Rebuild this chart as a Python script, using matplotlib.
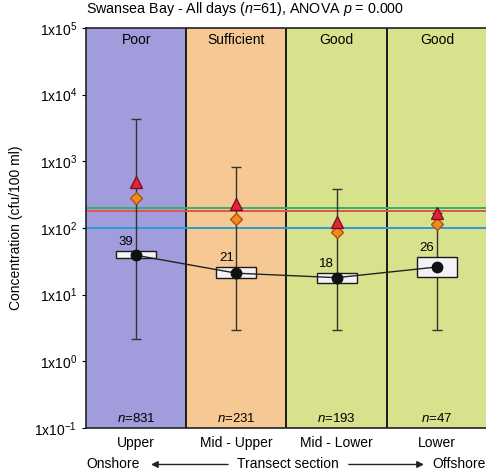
import matplotlib
matplotlib.use("Agg")
import matplotlib.pyplot as plt

plt.rcParams['font.family'] = ['Liberation Sans', 'DejaVu Sans']
plt.rcParams['mathtext.fontset'] = 'custom'
plt.rcParams['mathtext.rm'] = 'Liberation Sans'
plt.rcParams['mathtext.it'] = 'Liberation Sans:italic'

sections = ["Upper", "Mid - Upper", "Mid - Lower", "Lower"]
classes = ["Poor", "Sufficient", "Good", "Good"]
class_colors = ["#a19cdc", "#f6c994", "#d8e28c", "#d8e28c"]
n_counts = [831, 231, 193, 47]
means = [39, 21, 18, 26]
box_low = [35, 18, 15, 18.6]
box_high = [45, 26, 21, 37]
whisk_low = [2.2, 2.95, 2.95, 2.95]
whisk_high = [4300, 820, 385, 170]
triangles = [490, 230, 124, 170]
diamonds = [280, 137, 86, 115]
guide_vals = [200, 182, 100]
guide_colors = ["#2fb36a", "#e8504a", "#2a9bd8"]

fig = plt.figure(figsize=(4.86, 4.73), dpi=100)
ax = fig.add_axes([0.177, 0.0951, 0.825, 0.8457])
ax.set_yscale('log')
ax.set_ylim(0.1, 1e5)
ax.set_xlim(-0.5, 3.5)

x = list(range(len(sections)))
for i in x:
    ax.axvspan(i - 0.5, i + 0.5, color=class_colors[i], zorder=0)
    if i > 0:
        ax.axvline(i - 0.5, color='#1a1a1a', lw=1.4, zorder=1)
    ax.text(i, 6.5e4, classes[i], ha='center', va='center', fontsize=10, zorder=6)
    ax.text(i, 0.14, '$n$=%d' % n_counts[i], ha='center', va='center', fontsize=9.5, zorder=6)

for v, c in zip(guide_vals, guide_colors):
    ax.axhline(v, color=c, lw=1.4, zorder=2)

# whiskers
ax.vlines(x, whisk_low, whisk_high, color='#333333', lw=1, zorder=3)
ax.hlines(whisk_low, [i - 0.05 for i in x], [i + 0.05 for i in x], color='#333333', lw=1, zorder=3)
ax.hlines(whisk_high, [i - 0.05 for i in x], [i + 0.05 for i in x], color='#333333', lw=1, zorder=3)

# boxes
for i in x:
    ax.bar(i, box_high[i] - box_low[i], bottom=box_low[i], width=0.4,
           color='#f4f2f6', edgecolor='#1a1a1a', lw=1, zorder=4)
    ax.text(i - 0.1, box_high[i] * 1.12, str(means[i]), ha='center', va='bottom',
            fontsize=9.5, zorder=6)

ax.plot(x, means, color='#222222', lw=1, zorder=5)
ax.plot(x, means, 'o', color='#111111', ms=7.5, zorder=6)
ax.plot(x, diamonds, 'D', color='#f08c1c', mec='#b05010', ms=6, zorder=6)
ax.plot(x, triangles, '^', color='#e0243c', mec='#801020', ms=8, zorder=6)

ax.set_yticks([0.1, 1, 10, 100, 1e3, 1e4, 1e5])
ax.set_yticklabels(['1x10$^{-1}$', '1x10$^{0}$', '1x10$^{1}$', '1x10$^{2}$',
                    '1x10$^{3}$', '1x10$^{4}$', '1x10$^{5}$'], fontsize=10)
ax.minorticks_off()
ax.set_xticks(x)
ax.set_xticklabels(sections, fontsize=10)
ax.tick_params(axis='x', length=0, pad=6)
ax.tick_params(axis='y', length=3)
ax.set_ylabel('Concentration (cfu/100 ml)', fontsize=10, labelpad=8)
for s in ax.spines.values():
    s.set_color('#222222')
    s.set_linewidth(1.2)

fig.text(0.177, 0.962, 'Swansea Bay - All days ($n$=61), ANOVA $p$ = 0.000',
         fontsize=10.3, ha='left', va='bottom')

ytxt = 0.018
fig.text(0.177, ytxt, 'Onshore', fontsize=10, ha='left', va='center')
fig.text(0.593, ytxt, 'Transect section', fontsize=10, ha='center', va='center')
fig.text(0.999, ytxt, 'Offshore', fontsize=10, ha='right', va='center')
fig.add_artist(matplotlib.patches.FancyArrowPatch((0.475, ytxt), (0.305, ytxt),
               transform=fig.transFigure, arrowstyle='-|>', mutation_scale=10,
               color='#222222', lw=1))
fig.add_artist(matplotlib.patches.FancyArrowPatch((0.712, ytxt), (0.878, ytxt),
               transform=fig.transFigure, arrowstyle='-|>', mutation_scale=10,
               color='#222222', lw=1))

fig.savefig('out.png', dpi=100)
